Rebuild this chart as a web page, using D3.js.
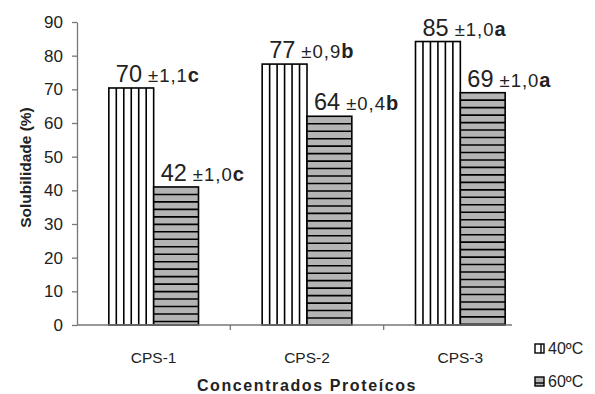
<!DOCTYPE html>
<html>
<head>
<meta charset="utf-8">
<script src="https://cdn.jsdelivr.net/npm/d3@7"></script>
<style>
  body { margin: 0; background: #fff; }
  svg text { font-family: Arial, "Liberation Sans", Helvetica, sans-serif; }
</style>
</head>
<body>
<script>
const categories = ["CPS-1", "CPS-2", "CPS-3"];
const series = ["40ºC", "60ºC"];
const values40 = [70.4, 77.5, 84.2];
const values60 = [41.0, 62.0, 69.0];
const labels40 = [["70", "±1,1", "c"], ["77", "±0,9", "b"], ["85", "±1,0", "a"]];
const labels60 = [["42", "±1,0", "c"], ["64", "±0,4", "b"], ["69", "±1,0", "a"]];
const yTicks = d3.range(0, 91, 10);

const width = 595, height = 394;
const margin = { left: 77, top: 22, right: 58, bottom: 69 };

const svg = d3.select("body").append("svg")
  .attr("width", width)
  .attr("height", height);

const x = d3.scaleBand()
  .domain(categories)
  .range([margin.left, width - margin.right]);

const xs = d3.scaleBand()
  .domain(series)
  .range([0, x.bandwidth()])
  .paddingOuter(0.71);

const y = d3.scaleLinear()
  .domain([0, 90])
  .range([height - margin.bottom, margin.top]);

const rows = categories.map((c, i) => [
  { cat: c, s: series[0], v: values40[i], lab: labels40[i] },
  { cat: c, s: series[1], v: values60[i], lab: labels60[i] }
]).flat();

// bars
const bar = svg.append("g")
  .selectAll("g")
  .data(rows)
  .join("g")
  .attr("transform", d => `translate(${x(d.cat) + xs(d.s)},${y(d.v)})`);

bar.append("rect")
  .attr("width", xs.bandwidth())
  .attr("height", d => y(0) - y(d.v))
  .attr("fill", d => d.s === series[0] ? "#fff" : "#b4b4b4");

// stripes
const step = xs.bandwidth() / 6;
bar.filter(d => d.s === series[0])
  .selectAll("line")
  .data(d => d3.range(1, 6).map(k => ({ k, h: y(0) - y(d.v) })))
  .join("line")
  .attr("x1", d => d.k * step).attr("x2", d => d.k * step)
  .attr("y1", 0).attr("y2", d => d.h)
  .attr("stroke", "#000").attr("stroke-width", 1.6);

bar.filter(d => d.s === series[1])
  .selectAll("line")
  .data(d => d3.range(step, y(0) - y(d.v), step))
  .join("line")
  .attr("x1", 0).attr("x2", xs.bandwidth())
  .attr("y1", d => d).attr("y2", d => d)
  .attr("stroke", "#000").attr("stroke-width", 1.6);

bar.append("rect")
  .attr("width", xs.bandwidth())
  .attr("height", d => y(0) - y(d.v))
  .attr("fill", "none")
  .attr("stroke", "#000")
  .attr("stroke-width", 1.6);

// value labels
const lab = bar.append("text")
  .attr("x", 7)
  .attr("y", -6)
  .attr("fill", "#222");
lab.append("tspan").attr("font-size", 23.5).text(d => d.lab[0]);
lab.append("tspan").attr("font-size", 18.5).attr("dx", 6)
  .attr("letter-spacing", 1).text(d => d.lab[1]);
lab.append("tspan").attr("font-size", 20).attr("font-weight", "bold").text(d => d.lab[2]);

// y axis
const yAxis = svg.append("g")
  .attr("transform", `translate(${margin.left},0)`)
  .call(d3.axisLeft(y).tickValues(yTicks).tickSize(5).tickPadding(9).tickSizeOuter(0));
yAxis.selectAll("path, line").attr("stroke", "#777").attr("stroke-width", 1.3);
yAxis.selectAll("text").attr("font-size", 17).attr("fill", "#222");

// x axis
const xAxis = svg.append("g")
  .attr("transform", `translate(0,${y(0)})`);
xAxis.append("line")
  .attr("x1", margin.left).attr("x2", width - margin.right - 25)
  .attr("stroke", "#777").attr("stroke-width", 1.3);
xAxis.selectAll(".tk")
  .data(categories.slice(1))
  .join("line")
  .attr("x1", d => x(d)).attr("x2", d => x(d))
  .attr("y1", 0).attr("y2", 5)
  .attr("stroke", "#777").attr("stroke-width", 1.3);
xAxis.selectAll("text")
  .data(categories)
  .join("text")
  .attr("x", d => x(d) + x.bandwidth() / 2)
  .attr("y", 38)
  .attr("text-anchor", "middle")
  .attr("font-size", 15.5)
  .attr("fill", "#222")
  .text(d => d);

// axis titles
svg.append("text")
  .attr("x", 307).attr("y", 391)
  .attr("text-anchor", "middle")
  .attr("font-size", 16).attr("font-weight", "bold")
  .attr("letter-spacing", 1.6)
  .attr("fill", "#222")
  .text("Concentrados Proteícos");

svg.append("text")
  .attr("transform", `translate(31,${(y(0) + y(90)) / 2 - 6}) rotate(-90)`)
  .attr("text-anchor", "middle")
  .attr("font-size", 15.5).attr("font-weight", "bold")
  .attr("fill", "#222")
  .text("Solubilidade (%)");

// legend
const leg = svg.append("g")
  .selectAll("g")
  .data(series)
  .join("g")
  .attr("transform", (d, i) => `translate(535,${344 + i * 33})`);
leg.append("rect")
  .attr("width", 9).attr("height", 9)
  .attr("fill", (d, i) => i === 0 ? "#fff" : "#b4b4b4")
  .attr("stroke", "#000").attr("stroke-width", 1.4);
leg.filter((d, i) => i === 0).append("line")
  .attr("x1", 6).attr("x2", 6).attr("y1", 0).attr("y2", 9)
  .attr("stroke", "#000").attr("stroke-width", 1.4);
leg.filter((d, i) => i === 1).append("line")
  .attr("x1", 0).attr("x2", 9).attr("y1", 6).attr("y2", 6)
  .attr("stroke", "#000").attr("stroke-width", 1.4);
leg.append("text")
  .attr("x", 13).attr("y", 10)
  .attr("font-size", 16).attr("fill", "#222")
  .text(d => d);
</script>
</body>
</html>
